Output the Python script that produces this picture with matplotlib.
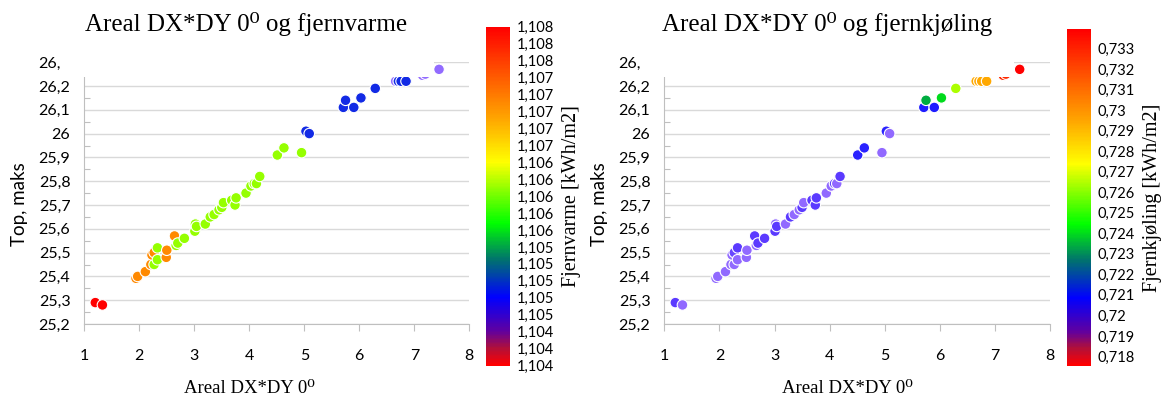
import matplotlib
matplotlib.use("Agg")
import matplotlib.pyplot as plt
from matplotlib.colors import LinearSegmentedColormap, Normalize
from matplotlib.cm import ScalarMappable
from matplotlib.patches import Rectangle
import numpy as np

# ---------------- data ----------------
areal = [1.20, 1.33, 1.94, 1.97, 2.11, 2.21, 2.27, 2.23, 2.27, 2.33, 2.33, 2.49, 2.50,
         2.64, 2.67, 2.70, 2.82, 3.01, 3.02, 3.04, 3.20, 3.29, 3.36, 3.45, 3.50, 3.53,
         3.68, 3.74, 3.76, 3.94, 4.03, 4.09, 4.13, 4.19, 4.51, 4.63, 4.95, 5.03, 5.09,
         5.71, 5.75, 5.90, 6.03, 6.29, 6.66, 6.71, 6.76, 6.85, 7.15, 7.20, 7.45]
top_maks = [25.29, 25.28, 25.392, 25.40, 25.42, 25.45, 25.45, 25.49, 25.50, 25.52, 25.47,
            25.48, 25.51, 25.57, 25.53, 25.54, 25.56, 25.59, 25.62, 25.61, 25.62, 25.65,
            25.66, 25.68, 25.69, 25.71, 25.72, 25.70, 25.73, 25.75, 25.78, 25.79, 25.79,
            25.82, 25.91, 25.94, 25.92, 26.01, 26.00, 26.11, 26.14, 26.11, 26.15, 26.19,
            26.22, 26.22, 26.22, 26.22, 26.245, 26.25, 26.27]
fjernvarme = [1.1080, 1.1080, 1.1071, 1.1071, 1.1071, 1.1071, 1.1061, 1.1071, 1.1071,
              1.1061, 1.1061, 1.1071, 1.1071, 1.1071, 1.1061, 1.1061, 1.1061, 1.1061,
              1.1061, 1.1061, 1.1061, 1.1061, 1.1061, 1.1061, 1.1061, 1.1061, 1.1061,
              1.1061, 1.1061, 1.1061, 1.1061, 1.1061, 1.1061, 1.1061, 1.1061, 1.1061,
              1.1061, 1.1049, 1.1049, 1.1049, 1.1049, 1.1049, 1.1049, 1.1049, 1.1043,
              1.1049, 1.1049, 1.1049, 1.1043, 1.1043, 1.1043]
fjernkjoling = [0.7198, 0.7189, 0.7189, 0.7189, 0.7189, 0.7189, 0.7189, 0.7189, 0.7196,
                0.7198, 0.7189, 0.7189, 0.7189, 0.7198, 0.7189, 0.7198, 0.7198, 0.7198,
                0.7189, 0.7198, 0.7189, 0.7198, 0.7189, 0.7189, 0.7198, 0.7189, 0.7198,
                0.7198, 0.7198, 0.7189, 0.7189, 0.7198, 0.7189, 0.7198, 0.7206, 0.7206,
                0.7189, 0.7206, 0.7189, 0.7208, 0.7234, 0.7208, 0.7240, 0.7264, 0.7294,
                0.7294, 0.7294, 0.7294, 0.7328, 0.7328, 0.7339]

titles = ["Areal DX*DY 0\u2070 og fjernvarme", "Areal DX*DY 0\u2070 og fjernkj\u00f8ling"]
xlabel = "Areal DX*DY 0\u2070"
ylabel = "Top, maks"
cbar_labels = ["Fjernvarme [kWh/m2]", "Fjernkj\u00f8ling [kWh/m2]"]
x_ticks = [1, 2, 3, 4, 5, 6, 7, 8]
y_ticks = [25.2, 25.3, 25.4, 25.5, 25.6, 25.7, 25.8, 25.9, 26.0, 26.1, 26.2, 26.3]
cb1_ticks = [1.104 + 0.0002 * i for i in range(21)]
cb2_ticks = [0.718 + 0.001 * i for i in range(16)]

# ---------------- styling ----------------
W, H = 1166, 399
fig = plt.figure(figsize=(W / 100, H / 100), dpi=100)
SANS = ["Lato", "DejaVu Sans"]
SERIF = ["Liberation Serif", "DejaVu Serif"]

stops_bar = [(0.0, "#FF0000"), (0.05, "#B0103A"), (0.10, "#6000A0"), (0.20, "#0000FF"),
             (0.31, "#007070"), (0.42, "#00FF00"), (0.60, "#FFFF00"), (0.73, "#FFA500"),
             (0.87, "#FF5000"), (1.0, "#FF0000")]
stops_pts = [(0.0, "#B090FF"), (0.08, "#9068FF"), (0.14, "#5838FF"), (0.20, "#1A1AFF"),
             (0.25, "#0A3CC8"), (0.31, "#007070"), (0.42, "#00FF00"), (0.60, "#FFFF00"),
             (0.73, "#FFA500"), (0.87, "#FF5000"), (1.0, "#FF0000")]
cmap_bar = LinearSegmentedColormap.from_list("bar", stops_bar)
cmap_pts = LinearSegmentedColormap.from_list("pts", stops_pts)


def rect(l, r, t, b):
    return [l / W, 1 - b / H, (r - l) / W, (b - t) / H]


def comma(v, nd):
    s = f"{round(v, nd):.{nd}f}".rstrip("0").rstrip(".")
    return s.replace(".", ",")


panels = [
    dict(ax=(84.3, 469.3, 62.2, 324.0), cax=(486, 510, 26.7, 365.5), vals=fjernvarme,
         vmin=1.104, vmax=1.108, ticks=cb1_ticks, title_x=246, xl_x=0.428,
         ylab_x=20, box=(60, 434)),
    dict(ax=(664.3, 1050.0, 62.2, 324.0), cax=(1066.7, 1090.7, 29.3, 365.5), vals=fjernkjoling,
         vmin=0.71756, vmax=0.73393, ticks=cb2_ticks, title_x=827, xl_x=0.474,
         ylab_x=600, box=(640, 1014)),
]

grid_c = "#D9D9D9"
axis_c = "#BFBFBF"

for i, p in enumerate(panels):
    ax = fig.add_axes(rect(*p["ax"]))
    norm = Normalize(p["vmin"], p["vmax"])
    ax.scatter(areal, top_maks, c=p["vals"], cmap=cmap_pts, norm=norm, s=58,
               edgecolors="white", linewidths=0.8, zorder=3)
    ax.set_xlim(1, 8)
    ax.set_ylim(25.2, 26.3)
    ax.set_xticks(x_ticks)
    ax.set_xticklabels([str(t) for t in x_ticks], fontfamily=SANS, fontsize=11.5)
    ax.set_yticks(y_ticks)
    ax.set_yticklabels([comma(t, 1) for t in y_ticks], fontfamily=SANS, fontsize=11.5)
    ax.set_yticks([25.25 + 0.1 * k for k in range(11)], minor=True)
    ax.tick_params(axis="y", which="major", length=0, pad=10)
    ax.tick_params(axis="y", which="minor", direction="in", length=4, color=axis_c, width=0.8)
    ax.tick_params(axis="x", which="major", direction="out", length=5, color=axis_c,
                   width=0.8, pad=13)
    for s in ("top", "right"):
        ax.spines[s].set_visible(False)
    for s in ("left", "bottom"):
        ax.spines[s].set_color(axis_c)
        ax.spines[s].set_linewidth(0.8)
    ax.grid(axis="y", which="major", color=grid_c, linewidth=1.0)
    ax.set_axisbelow(True)
    ax.set_xlabel(xlabel, fontfamily=SERIF, fontsize=13.5)
    ax.xaxis.set_label_coords(p["xl_x"], -0.215)

    # colorbar
    cax = fig.add_axes(rect(*p["cax"]))
    cb = fig.colorbar(ScalarMappable(norm=norm, cmap=cmap_bar), cax=cax)
    cb.outline.set_visible(False)
    cb.set_ticks(p["ticks"])
    cb.set_ticklabels([comma(t, 3) for t in p["ticks"]])
    cax.tick_params(length=0, pad=5, labelsize=10.5)
    for lab in cax.get_yticklabels():
        lab.set_fontfamily(SANS)
    cax.text(3.58, 0.5, cbar_labels[i], rotation=90, ha="center", va="center",
             transform=cax.transAxes, fontfamily=SERIF, fontsize=14.5)

    # white title area that overlaps the top of the plot
    bx0, bx1 = p["box"]
    fig.add_artist(Rectangle((bx0 / W, 1 - 77 / H), (bx1 - bx0) / W, 77 / H,
                             transform=fig.transFigure, facecolor="white",
                             edgecolor="none", zorder=2))
    fig.text(p["title_x"] / W, 1 - 31 / H, titles[i], ha="center", va="baseline",
             fontfamily=SERIF, fontsize=18, zorder=5)

    fig.text(p["ylab_x"] / W, 1 - 204 / H, ylabel, rotation=90, ha="center", va="center",
             fontfamily=SANS, fontsize=13.5, zorder=5)

fig.savefig("out.png", dpi=100, facecolor="white")
